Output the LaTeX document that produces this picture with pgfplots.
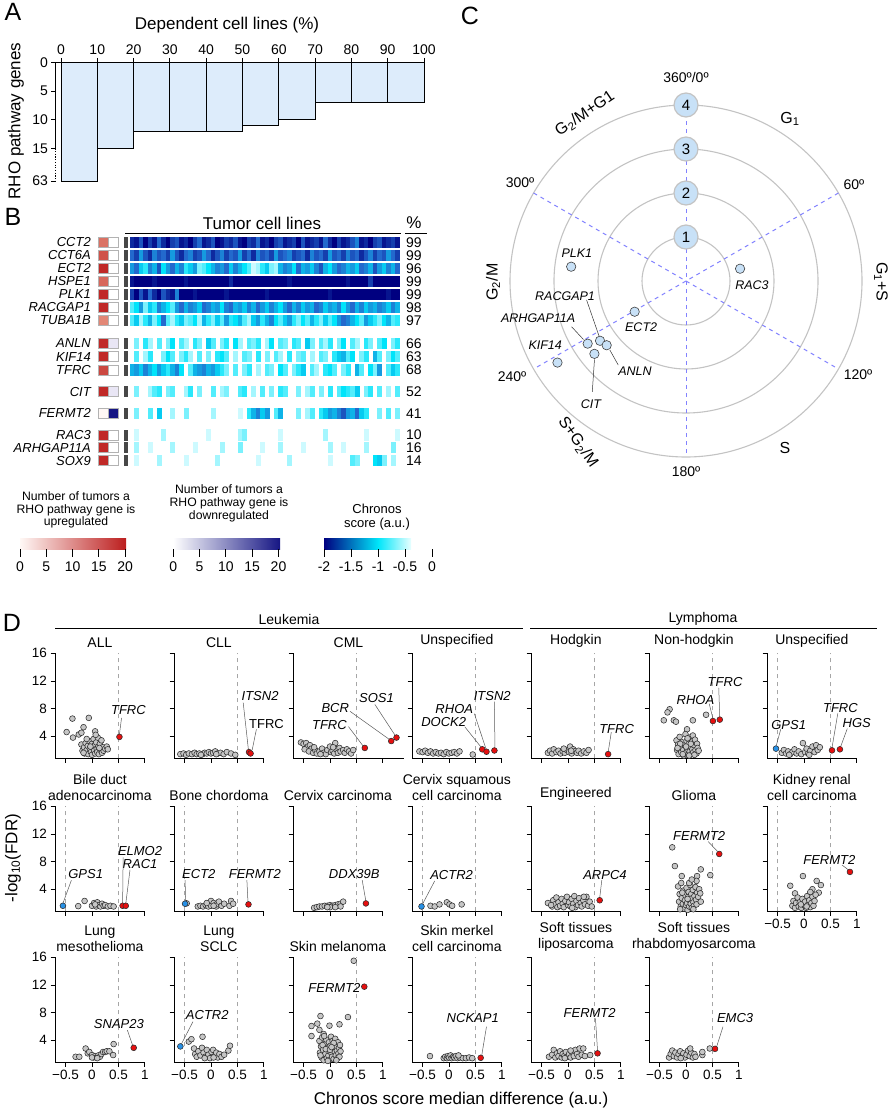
\documentclass[border=0pt]{standalone}
\usepackage{pgfplots}
\pgfplotsset{compat=1.18}
\usepackage{pgfplotstable}
\usepackage{fontspec}
\setmainfont{Liberation Sans}
\newcommand\fs[2]{\fontsize{#1}{#2}\selectfont}

\definecolor{barblue}{RGB}{221,236,251}
\definecolor{ptgray}{RGB}{198,198,198}
\definecolor{ptedge}{RGB}{45,45,45}
\definecolor{ptred}{RGB}{230,15,15}
\definecolor{ptblue}{RGB}{40,145,230}
\definecolor{ray}{RGB}{130,130,255}
\definecolor{ring}{RGB}{195,195,195}
\definecolor{nodeblue}{RGB}{200,225,247}
\definecolor{leader}{RGB}{90,90,90}
\definecolor{cnavy}{RGB}{0,0,128}
\definecolor{cmid}{RGB}{40,110,205}
\definecolor{ccyan}{RGB}{0,230,250}
\definecolor{clight}{RGB}{150,245,252}
\definecolor{cwhite}{RGB}{232,255,255}
\definecolor{upred}{RGB}{188,30,30}
\definecolor{upmid}{RGB}{226,135,118}
\definecolor{upwhite}{RGB}{255,248,245}
\definecolor{dnnavy}{RGB}{22,22,132}
\definecolor{dnmid}{RGB}{145,128,205}

% genes of panel B: row position (px), up / down counts
\pgfplotstableread{
gene       y      up  down
CCT2       242.3  12  0
CCT6A      255.3  15  0
ECT2       268.3  19  0
HSPE1      281.3  13  0
PLK1       294.3  19  0
RACGAP1    307.3  19  0
TUBA1B     320.3  10  0
ANLN       343.3  19  2
KIF14      356.7  19  0
TFRC       370.0  16  0
CIT        391.7  19  2
FERMT2     413.3  0   20
RAC3       435.0  19  0
ARHGAP11A  447.7  19  0
SOX9       460.7  19  0
}\regulation

% panel C: peak phase angle (deg, clockwise from top) and radius
\pgfplotstableread{
gene      theta  r
PLK1      277.1  2.63
RAC3      77.2   1.26
ECT2      239.1  1.36
RACGAP1   235.2  2.38
ANLN      231.0  2.32
ARHGAP11A 237.5  2.65
CIT       231.5  2.66
KIF14     237.6  3.46
}\cyclepeaks

\pgfplotsset{
  dax/.style={anchor=north west, scale only axis, width=89.8pt, height=105pt,
    xmin=-0.7, xmax=1, ymin=0.8, ymax=16,
    axis lines=left, axis line style={-, line width=0.8pt},
    tick align=outside, major tick length=4.5pt, tick style={line width=0.8pt, black},
    xtick={-0.5,0,0.5,1}, ytick={4,8,12,16}, xticklabels={}, yticklabels={},
    clip=false,
    title style={font=\fs{14}{16}, align=center, yshift=-4pt},
    tick label style={font=\fs{13.5}{15}}},
  xl/.style={xticklabels={−0.5,0,0.5,1}},
  yl/.style={yticklabels={4,8,12,16}},
  gp/.style={only marks, mark=*, mark size=2.9pt, mark options={fill=ptgray, draw=ptedge, line width=0.55pt}},
  rp/.style={only marks, mark=*, mark size=2.9pt, mark options={fill=ptred, draw=ptedge, line width=0.55pt}},
  bp/.style={only marks, mark=*, mark size=2.9pt, mark options={fill=ptblue, draw=ptedge, line width=0.55pt}},
  hm/.style={scatter, only marks, mark=square*, mark size=5.6pt, point meta=explicit,
    restrict expr to domain={\thisrow{c}}{-5:-0.01},
    scatter/use mapped color={draw opacity=0, fill=mapped color},
    mark options={xscale=0.41}},
  bframe/.style={anchor=north west, scale only axis, width=892pt, height=410pt,
    xmin=0, xmax=892, ymin=190, ymax=600, y dir=reverse, hide axis, clip=false},
}
\tikzset{
  gl/.style={font=\fs{13}{14}\itshape, inner sep=1pt},
  ll/.style={draw=leader, line width=0.5pt},
  dl/.style={draw=black!35, line width=0.8pt, dash pattern=on 4pt off 4pt},
  cnum/.style={circle, fill=nodeblue, draw=ring, line width=1.2pt, minimum size=24pt, inner sep=0pt, font=\fs{15}{16}},
  cg/.style={font=\fs{12.5}{14}\itshape, inner sep=1pt},
}
\newcommand\dr{\draw[dl] (0.5,0.8) -- (0.5,16);}
\newcommand\dlft{\draw[dl] (-0.5,0.8) -- (-0.5,16);}

\begin{document}
\begin{tikzpicture}
\path[use as bounding box] (0pt,0pt) rectangle (892pt,-1113pt);

%================ A =================
\begin{axis}[at={(55.9pt,-62.3pt)}, anchor=north west, scale only axis,
  width=368.1pt, height=118.7pt,
  xmin=-1.4, xmax=100, ymin=-20.7, ymax=0,
  axis x line*=top, axis y line*=left,
  axis line style={-, line width=0.8pt}, y axis line style={draw=none},
  tick align=outside, major tick length=4.5pt, tick style={black, line width=0.8pt},
  xtick={0,10,...,100}, xticklabels={0,10,20,30,40,50,60,70,80,90,100},
  ytick={0,-5,-10,-15,-20.7}, yticklabels={0,5,10,15,63},
  tick label style={font=\fs{14}{16}},
  y filter/.expression={y>20 ? -20.7 : -y},
  clip=false]
\addplot[ybar interval, fill=barblue, draw=black, line width=0.8pt] coordinates {
  (0,63) (10,15) (20,12) (30,12) (40,12) (50,11) (60,10) (70,7) (80,7) (90,7) (100,7)};
\draw[line width=0.8pt] (-1.4,0) -- (-1.4,-15);
\draw[line width=0.8pt, dash pattern=on 1.2pt off 1.5pt] (-1.4,-15) -- (-1.4,-20.7);
\end{axis}

%================ B heatmap (Chronos) =================
\begin{axis}[bframe, at={(0pt,-190pt)},
  colormap={chronos}{rgb255=(0,0,128) rgb255=(35,105,205) rgb255=(0,228,250) rgb255=(205,250,255) rgb255=(255,255,255)},
  point meta min=-2, point meta max=0]
\addplot[hm] table[x expr=132.25+4.5*\coordindex, y expr=242.3, meta=c, row sep=\\] {c\\
-1.8\\-1.9\\-1.6\\-2\\-1.7\\-1.9\\-1.5\\-1.8\\-2\\-1.7\\
-1.6\\-1.9\\-1.8\\-2\\-1.7\\-1.5\\-1.9\\-1.8\\-1.6\\-2\\
-1.9\\-1.7\\-1.8\\-1.6\\-1.9\\-2\\-1.7\\-1.8\\-1.5\\-1.9\\
-1.8\\-2\\-1.7\\-1.6\\-1.9\\-1.8\\-1.7\\-2\\-1.6\\-1.9\\
-1.8\\-1.7\\-1.9\\-1.5\\-1.8\\-2\\-1.7\\-1.9\\-1.8\\-1.6\\
-1.4\\-1.9\\-1.8\\-2\\-1.7\\-1.6\\-1.9\\-1.8\\-1.7\\-1.9\\};
\addplot[hm] table[x expr=132.25+4.5*\coordindex, y expr=255.3, meta=c, row sep=\\] {c\\
-1.5\\-1.7\\-1.3\\-1.6\\-1.8\\-1.4\\-1.6\\-1.5\\-1.7\\-1.3\\
-1.6\\-1.8\\-1.5\\-1.4\\-1.7\\-1.6\\-1.3\\-1.5\\-1.8\\-1.6\\
-1.4\\-1.7\\-1.5\\-1.6\\-1.3\\-1.7\\-1.5\\-1.8\\-1.4\\-1.6\\
-1.5\\-1.7\\-1.3\\-1.6\\-1.5\\-1.4\\-1.7\\-1.6\\-1.5\\-1.8\\
-1.4\\-1.6\\-1.5\\-1.7\\-1.3\\-1.6\\-1.5\\-1.7\\-1.4\\-1.6\\
-1.5\\-1.8\\-1.6\\-1.4\\-1.7\\-1.5\\-1.6\\-1.3\\-1.5\\-1.7\\};
\addplot[hm] table[x expr=132.25+4.5*\coordindex, y expr=268.3, meta=c, row sep=\\] {c\\
-1.3\\-1.5\\-1.1\\-0.9\\-1.4\\-1.2\\-1.6\\-1.0\\-1.3\\-1.5\\
-1.2\\-1.4\\-0.9\\-1.1\\-1.3\\-0.7\\-0.8\\-1.0\\-1.2\\-1.4\\
-1.3\\-1.5\\-1.1\\-1.4\\-1.2\\-1.0\\-0.8\\-0.5\\-0.6\\-0.9\\
-1.1\\-0.7\\-0.6\\-1.2\\-1.4\\-1.3\\-1.0\\-1.5\\-1.2\\-1.3\\
-1.1\\-1.4\\-1.6\\-1.2\\-1.0\\-1.3\\-1.5\\-1.4\\-1.2\\-1.3\\
-1.1\\-1.5\\-1.4\\-1.2\\-1.6\\-1.3\\-1.1\\-1.4\\-1.2\\-1.5\\};
\addplot[hm] table[x expr=132.25+4.5*\coordindex, y expr=281.3, meta=c, row sep=\\] {c\\
-1.9\\-2\\-2\\-2\\-2\\-1.9\\-2\\-2\\-2\\-2\\
-2\\-2\\-1.9\\-2\\-2\\-2\\-2\\-2\\-2\\-2\\
-2\\-2\\-1.8\\-2\\-2\\-2\\-2\\-2\\-2\\-2\\
-2\\-2\\-2\\-2\\-2\\-1.9\\-2\\-2\\-2\\-2\\
-2\\-2\\-2\\-2\\-2\\-2\\-2\\-2\\-1.9\\-2\\
-2\\-2\\-2\\-1.7\\-2\\-2\\-2\\-2\\-2\\-2\\};
\addplot[hm] table[x expr=132.25+4.5*\coordindex, y expr=294.3, meta=c, row sep=\\] {c\\
-1.7\\-2\\-1.6\\-1.9\\-1.5\\-1.8\\-2\\-1.6\\-1.8\\-1.9\\
-1.4\\-2\\-2\\-2\\-1.9\\-2\\-2\\-2\\-2\\-2\\
-2\\-1.9\\-2\\-2\\-2\\-2\\-2\\-2\\-2\\-2\\
-1.9\\-2\\-2\\-2\\-2\\-2\\-2\\-2\\-2\\-2\\
-2\\-2\\-2\\-2\\-1.9\\-2\\-2\\-2\\-2\\-2\\
-2\\-2\\-2\\-2\\-2\\-2\\-2\\-1.9\\-2\\-2\\};
\addplot[hm] table[x expr=132.25+4.5*\coordindex, y expr=307.3, meta=c, row sep=\\] {c\\
-0.8\\-1.0\\-1.3\\-0.7\\-1.1\\-0.9\\-1.4\\-1.2\\-1.0\\-0.8\\
-1.3\\-1.5\\-1.2\\-1.4\\-1.3\\-1.1\\-1.5\\-1.4\\-1.2\\-1.3\\
-1.0\\-1.4\\-1.5\\-1.2\\-1.3\\-1.1\\-1.4\\-1.2\\-1.5\\-1.3\\
-1.1\\-1.4\\-1.2\\-1.0\\-1.3\\-1.5\\-1.2\\-1.4\\-1.1\\-1.3\\
-1.2\\-1.5\\-1.4\\-1.1\\-1.3\\-1.2\\-1.4\\-1.0\\-1.3\\-1.5\\
-1.2\\-1.4\\-1.1\\-1.3\\-1.2\\-1.4\\-1.3\\-1.1\\-1.4\\-1.2\\};
\addplot[hm] table[x expr=132.25+4.5*\coordindex, y expr=320.3, meta=c, row sep=\\] {c\\
-0.8\\-1.1\\-0.6\\-0.9\\-1.2\\-0.7\\-1.0\\-1.5\\-0.8\\-0.6\\
-0.9\\-1.1\\-0.7\\-0.8\\-1.0\\-0.6\\-1.2\\-0.9\\-0.7\\-1.1\\
-0.8\\-1.3\\-0.9\\-1.0\\-1.2\\-0.8\\-0.6\\-1.1\\-1.3\\-0.9\\
-1.2\\-1.4\\-1.0\\-0.8\\-1.1\\-1.3\\-0.9\\-0.7\\-1.0\\-0.8\\
-1.2\\-0.9\\-0.7\\-1.1\\-0.8\\-1.0\\-1.3\\-1.5\\-1.4\\-1.2\\
-1.0\\-0.8\\-1.3\\-1.1\\-0.9\\-0.7\\-1.0\\-1.2\\-0.8\\-0.9\\};
\addplot[hm] table[x expr=132.25+4.5*\coordindex, y expr=343.3, meta=c, row sep=\\] {c\\
0\\-0.7\\0\\-0.9\\-0.6\\0\\-0.8\\0\\-0.7\\-1.0\\
0\\-0.8\\-0.6\\0\\-0.9\\-0.7\\0\\-1.1\\-0.8\\0\\
-0.7\\-0.9\\0\\-1.0\\-0.6\\0\\-0.8\\-0.7\\-0.9\\0\\
-0.6\\-1.0\\0\\-0.8\\-0.7\\0\\-0.9\\-0.8\\0\\-1.1\\
-0.7\\0\\-0.8\\-0.6\\-0.9\\0\\-0.7\\-1.0\\0\\-0.8\\
-0.6\\0\\-0.9\\-0.7\\0\\-0.8\\-1.0\\0\\-0.7\\-0.9\\};
\addplot[hm] table[x expr=132.25+4.5*\coordindex, y expr=356.7, meta=c, row sep=\\] {c\\
0\\-0.8\\0\\-0.6\\-0.9\\0\\0\\-0.7\\-1.0\\-0.8\\
0\\-0.7\\-0.9\\-0.6\\0\\-0.8\\0\\-0.7\\0\\-0.9\\
-1.0\\-0.8\\0\\-0.6\\0\\-0.8\\-0.7\\0\\-0.9\\0\\
-0.7\\0\\-0.8\\-0.6\\0\\-0.9\\0\\-0.7\\-0.8\\0\\
-0.6\\0\\-0.8\\-0.7\\0\\-0.9\\-1.1\\-1.2\\-0.8\\-1.0\\
0\\-0.7\\-0.9\\0\\-1.2\\-0.8\\0\\-0.7\\-1.0\\-0.8\\};
\addplot[hm] table[x expr=132.25+4.5*\coordindex, y expr=370, meta=c, row sep=\\] {c\\
-1.2\\-1.3\\-1.1\\-1.4\\-1.2\\-1.0\\-1.3\\-1.1\\-0.9\\-1.2\\
-1.4\\-1.0\\0\\-0.8\\-1.2\\-1.3\\-1.4\\-1.2\\-1.3\\-1.1\\
-0.9\\-0.7\\0\\-0.8\\0\\-0.7\\-0.9\\0\\-0.6\\0\\
-0.8\\-0.7\\0\\-1.0\\-0.8\\0\\-0.7\\-0.9\\-1.1\\0\\
-0.8\\-0.6\\0\\-0.9\\-1.0\\-0.8\\0\\-0.7\\-0.9\\0\\
-1.2\\-0.8\\0\\-1.0\\-0.7\\-1.3\\0\\-0.8\\-1.1\\-0.9\\};
\addplot[hm] table[x expr=132.25+4.5*\coordindex, y expr=391.7, meta=c, row sep=\\] {c\\
0\\-0.7\\0\\0\\-0.6\\-0.8\\-0.9\\0\\-0.7\\-0.8\\
0\\0\\-0.6\\-0.9\\0\\-0.7\\0\\0\\-0.8\\0\\
-0.6\\-0.7\\0\\0\\-0.8\\-0.9\\0\\-0.6\\0\\-0.8\\
0\\-0.7\\0\\-0.9\\-0.8\\0\\0\\-0.7\\0\\-0.6\\
-0.8\\0\\-0.7\\0\\-0.9\\0\\-0.8\\-1.0\\-0.9\\-0.8\\
-1.1\\0\\-0.7\\-0.9\\0\\-0.8\\0\\-0.6\\0\\-0.8\\};
\addplot[hm] table[x expr=132.25+4.5*\coordindex, y expr=413.3, meta=c, row sep=\\] {c\\
0\\-0.7\\0\\0\\-0.8\\0\\-1.1\\0\\0\\-0.6\\
0\\0\\-0.7\\0\\0\\0\\0\\0\\-0.6\\0\\
0\\0\\0\\0\\-0.5\\0\\-0.9\\-1.2\\-1.4\\-1.1\\
-1.3\\0\\-0.8\\-1.2\\0\\0\\0\\-0.7\\0\\-0.6\\
-0.8\\0\\-0.9\\-1.1\\-1.3\\-1.2\\-1.4\\-1.6\\-1.3\\-1.2\\
-1.5\\-1.1\\-0.9\\0\\0\\-0.7\\0\\-0.8\\0\\-0.7\\};
\addplot[hm] table[x expr=132.25+4.5*\coordindex, y expr=435, meta=c, row sep=\\] {c\\
0\\-0.5\\0\\0\\0\\0\\0\\-0.6\\0\\0\\
0\\0\\0\\0\\0\\0\\0\\-0.5\\0\\0\\
0\\0\\0\\0\\-0.6\\-0.7\\0\\0\\0\\0\\
0\\0\\0\\-0.5\\0\\0\\0\\0\\0\\0\\
0\\0\\0\\-0.6\\0\\0\\0\\0\\0\\0\\
0\\0\\-0.5\\0\\0\\0\\0\\0\\0\\-0.5\\};
\addplot[hm] table[x expr=132.25+4.5*\coordindex, y expr=447.7, meta=c, row sep=\\] {c\\
0\\-0.6\\0\\0\\-0.5\\0\\0\\0\\0\\-0.6\\
0\\0\\0\\0\\-0.5\\0\\0\\0\\0\\0\\
-0.6\\0\\0\\0\\-0.7\\0\\0\\0\\0\\-0.5\\
0\\0\\0\\-0.6\\0\\0\\0\\0\\-0.5\\0\\
0\\0\\0\\0\\-0.6\\0\\0\\-0.5\\0\\0\\
0\\0\\-0.6\\0\\0\\0\\0\\0\\-0.7\\0\\};
\addplot[hm] table[x expr=132.25+4.5*\coordindex, y expr=460.7, meta=c, row sep=\\] {c\\
0\\-0.5\\0\\0\\0\\0\\-0.6\\0\\0\\0\\
0\\0\\-0.5\\0\\0\\0\\0\\0\\0\\-0.6\\
0\\0\\0\\0\\0\\0\\0\\0\\-0.5\\0\\
0\\0\\0\\0\\0\\-0.6\\0\\0\\0\\0\\
0\\0\\0\\0\\-0.5\\0\\0\\0\\0\\-0.8\\
-0.7\\0\\0\\0\\-1.0\\-1.1\\-0.7\\0\\-0.6\\0\\};
\end{axis}

%================ B up / down counts =================
\begin{axis}[bframe, at={(0pt,-190pt)},
  colormap={up}{rgb255=(255,248,245) rgb255=(226,135,118) rgb255=(188,30,30)},
  point meta min=0, point meta max=20]
\addplot[scatter, only marks, mark=square*, mark size=5pt, point meta=explicit,
  scatter/use mapped color={draw=black!30, fill=mapped color}, mark options={line width=0.6pt}]
  table[x expr=102.8, y=y, meta=up] \regulation;
\end{axis}
\begin{axis}[bframe, at={(0pt,-190pt)},
  colormap={down}{rgb255=(255,255,255) rgb255=(145,128,205) rgb255=(22,22,132)},
  point meta min=0, point meta max=20]
\addplot[scatter, only marks, mark=square*, mark size=5pt, point meta=explicit,
  scatter/use mapped color={draw=black!30, fill=mapped color}, mark options={line width=0.6pt}]
  table[x expr=113.2, y=y, meta=down] \regulation;
\end{axis}

%================ C =================
\begin{axis}[at={(686pt,-281pt)}, anchor=center, scale only axis, width=369.6pt, height=369.6pt,
  xmin=-4.2, xmax=4.2, ymin=-4.2, ymax=4.2, hide axis, clip=false]
\draw[ring, line width=1.1pt] (0,0) circle[radius=44pt];
\draw[ring, line width=1.1pt] (0,0) circle[radius=88pt];
\draw[ring, line width=1.1pt] (0,0) circle[radius=132pt];
\draw[ring, line width=1.1pt] (0,0) circle[radius=176pt];
\draw[ray, line width=1pt, dash pattern=on 4pt off 4pt] (0,4) -- (0,-4);
\draw[ray, line width=1pt, dash pattern=on 4pt off 4pt] (3.464,2) -- (-3.464,-2);
\draw[ray, line width=1pt, dash pattern=on 4pt off 4pt] (-3.464,2) -- (3.464,-2);
\addplot[only marks, mark=*, mark size=4.7pt, mark options={fill=nodeblue, draw=black!75, line width=0.6pt}]
  table[x expr={\thisrow{r}*sin(\thisrow{theta})}, y expr={\thisrow{r}*cos(\thisrow{theta})}] \cyclepeaks;
\node[cnum] at (0,1) {1};
\node[cnum] at (0,2) {2};
\node[cnum] at (0,3) {3};
\node[cnum] at (0,4) {4};
\node[cg] at (-2.48,0.64) {PLK1};
\node[cg] at (1.5,-0.09) {RAC3};
\node[cg] at (-2.75,-0.34) {RACGAP1};
\node[cg] at (-1.02,-1.05) {ECT2};
\node[cg] at (-3.36,-0.84) {ARHGAP11A};
\node[cg] at (-3.2,-1.45) {KIF14};
\node[cg] at (-1.16,-2.05) {ANLN};
\node[cg] at (-2.16,-2.8) {CIT};
\draw[ll, draw=black!80] (-2.26,-0.43) -- (-1.97,-1.27);
\draw[ll, draw=black!80] (-2.6,-1.04) -- (-2.33,-1.33);
\draw[ll, draw=black!80] (-1.73,-1.57) -- (-1.54,-1.91);
\draw[ll, draw=black!80] (-2.08,-1.78) -- (-2.13,-2.52);
\end{axis}

%================ D row 1 =================
\begin{axis}[dax, yl, at={(55pt,-653.3pt)}, title={ALL}]
\dr
\addplot[gp] coordinates {(-0.48,4.6)(-0.37,6.55)(-0.36,3.8)(-0.25,4.25)(-0.2,4.5)(-0.16,5.3)(-0.06,6.65)(0.06,4.7)
 (-0.2,2.8)(-0.18,1.9)(-0.15,2.4)(-0.14,1.5)(-0.12,3.0)(-0.1,2.0)(-0.08,2.6)(-0.07,1.4)(-0.05,3.3)(-0.04,2.2)
 (-0.02,1.7)(0,2.9)(0,1.3)(0.01,2.4)(0.03,3.6)(0.04,1.9)(0.05,2.7)(0.06,1.5)(0.08,3.1)(0.09,2.2)(0.1,1.7)
 (0.11,3.8)(0.12,2.5)(0.13,1.4)(0.15,2.9)(0.16,2.0)(0.18,3.4)(0.19,1.6)(0.2,2.4)(0.22,1.9)(0.25,2.2)(0.28,2.5)
 (0.3,2.1)(-0.1,3.6)(0.07,4.2)(-0.16,1.6)(0.14,2.3)(-0.03,2.5)};
\addplot[rp] coordinates {(0.52,3.9)};
\node[gl] at (0.69,7.85) {TFRC};
\draw[ll] (0.56,6.65) -- (0.52,4.3);
\end{axis}

\begin{axis}[dax, at={(174pt,-653.3pt)}, title={CLL}]
\dr
\addplot[gp] coordinates {(-0.58,1.4)(-0.52,1.5)(-0.47,1.3)(-0.42,1.5)(-0.36,1.4)(-0.31,1.6)(-0.27,1.4)(-0.22,1.5)
 (-0.16,1.4)(-0.12,1.6)(-0.08,1.5)(-0.04,1.7)(0,1.5)(0.04,1.6)(0.08,1.8)(0.13,1.5)(0.18,1.6)(0.24,1.4)(0.3,1.7)
 (0.38,1.5)(0.46,1.3)(-0.19,1.3)(0.1,1.4)};
\addplot[rp] coordinates {(0.72,1.7)(0.75,1.5)};
\node[gl] at (0.93,9.76) {ITSN2};
\node[gl, font=\fs{13}{14}] at (1.05,5.7) {TFRC};
\draw[ll] (0.61,8.85) -- (0.71,1.95);
\draw[ll] (0.86,5.0) -- (0.78,2.0);
\end{axis}

\begin{axis}[dax, at={(293pt,-653.3pt)}, width=110.9pt, xmax=1.4, title={CML}]
\dr
\addplot[gp] coordinates {(-0.55,3.1)(-0.5,2.9)(-0.45,3.0)(-0.42,2.5)(-0.38,2.7)(-0.35,2.2)(-0.48,2.1)(-0.4,1.8)
 (-0.32,1.6)(-0.28,2.0)(-0.25,1.5)(-0.2,1.8)(-0.15,2.2)(-0.12,1.6)(-0.08,1.4)(-0.05,2.0)(0,2.5)(0.02,1.7)(0.05,1.9)
 (0.08,1.5)(0.1,3.0)(0.12,2.1)(0.15,1.6)(0.18,2.3)(0.2,1.8)(0.25,2.0)(0.28,1.6)(0.32,2.1)(0.36,1.8)(0.4,1.5)
 (0.44,2.0)(-0.18,1.4)(0.06,2.4)(-0.3,2.4)};
\addplot[rp] coordinates {(0.66,2.3)(1.16,3.3)(1.26,3.8)};
\node[gl] at (-0.01,5.55) {TFRC};
\node[gl] at (0.1,8.1) {BCR};
\node[gl] at (0.88,9.5) {SOS1};
\draw[ll] (0.35,5.4) -- (0.63,2.55);
\draw[ll] (0.38,7.6) -- (1.13,3.5);
\draw[ll] (0.85,8.6) -- (1.24,4.05);
\end{axis}

\begin{axis}[dax, at={(412pt,-653.3pt)}, title={Unspecified}]
\dr
\addplot[gp] coordinates {(-0.56,1.8)(-0.5,1.7)(-0.45,1.9)(-0.4,1.6)(-0.35,1.8)(-0.3,1.5)(-0.25,1.7)(-0.2,1.5)
 (-0.15,1.6)(-0.1,1.4)(-0.05,1.7)(0,1.5)(0.05,1.6)(0.1,1.7)(0.15,1.5)(0.2,1.8)(0.45,1.35)};
\addplot[rp] coordinates {(0.63,2.1)(0.71,1.75)(0.86,1.93)};
\node[gl] at (-0.1,6.0) {DOCK2};
\node[gl] at (0.1,7.9) {RHOA};
\node[gl] at (0.82,9.75) {ITSN2};
\draw[ll] (0.3,5.35) -- (0.62,2.3);
\draw[ll] (0.48,7.27) -- (0.71,1.95);
\draw[ll] (0.86,9.0) -- (0.87,2.2);
\end{axis}

\begin{axis}[dax, at={(531pt,-653.3pt)}, title={Hodgkin}]
\dr
\addplot[gp] coordinates {(-0.38,1.6)(-0.34,1.9)(-0.3,1.5)(-0.27,2.1)(-0.22,1.7)(-0.18,1.9)(-0.14,1.5)(-0.1,1.8)
 (-0.06,1.6)(-0.02,2.0)(0.02,1.7)(0.04,2.5)(0.07,1.5)(0.1,2.1)(0.13,1.8)(0.17,1.6)(0.2,1.9)(0.25,1.5)(0.3,1.8)
 (0.35,1.6)(0.39,2.0)(-0.08,2.2)(0.06,1.9)};
\addplot[rp] coordinates {(0.76,1.4)};
\node[gl] at (0.92,5.1) {TFRC};
\draw[ll] (0.82,4.6) -- (0.76,1.65);
\end{axis}

\begin{axis}[dax, at={(649pt,-653.3pt)}, title={Non-hodgkin}]
\dr
\addplot[gp] coordinates {(-0.31,7.9)(-0.35,7.45)(-0.42,6.3)(-0.23,6.3)(-0.19,6.1)(0.13,6.3)(0.38,7.1)(0.02,5.0)
 (-0.18,3.4)(-0.17,2.0)(-0.15,2.8)(-0.14,1.4)(-0.12,3.9)(-0.1,2.4)(-0.09,1.7)(-0.07,3.1)(-0.05,2.0)(-0.04,1.2)
 (-0.02,2.7)(-0.01,4.3)(0,1.6)(0.01,3.3)(0.02,2.2)(0.04,1.3)(0.05,2.9)(0.06,3.8)(0.07,1.8)(0.08,2.5)(0.1,1.4)
 (0.11,3.2)(0.12,2.1)(0.13,4.1)(0.14,1.7)(0.15,2.7)(0.17,3.5)(0.18,2.0)(0.2,1.5)(0.21,2.9)(0.22,2.3)(0.24,1.9)
 (-0.06,1.4)(0.03,3.7)(-0.11,2.9)(0.09,2.9)(0.16,1.3)(-0.16,2.3)(0,2.5)(0.06,1.2)};
\addplot[rp] coordinates {(0.51,6.2)(0.64,6.4)};
\node[gl] at (0.18,9.3) {RHOA};
\node[gl] at (0.74,11.8) {TFRC};
\draw[ll] (0.44,8.7) -- (0.51,6.55);
\draw[ll] (0.62,11.0) -- (0.64,6.75);
\end{axis}

\begin{axis}[dax, at={(767pt,-653.3pt)}, title={Unspecified}]
\dr \dlft
\addplot[gp] coordinates {(-0.42,1.6)(-0.38,2.0)(-0.34,1.5)(-0.3,1.8)(-0.26,1.4)(-0.22,1.7)(-0.18,2.1)(-0.14,1.5)
 (-0.1,1.8)(-0.05,1.4)(-0.02,3.0)(0.02,1.7)(0.05,2.2)(0.08,1.5)(0.12,1.9)(0.16,2.5)(0.2,1.7)(0.23,2.7)(0.26,2.0)
 (0.3,2.4)(-0.28,1.3)(0.1,1.3)};
\addplot[bp] coordinates {(-0.53,2.2)};
\addplot[rp] coordinates {(0.53,1.95)(0.68,2.1)};
\node[gl] at (-0.29,5.55) {GPS1};
\node[gl] at (0.69,8.1) {TFRC};
\node[gl] at (1.0,5.9) {HGS};
\draw[ll] (-0.44,5.0) -- (-0.53,2.5);
\draw[ll] (0.64,7.3) -- (0.53,2.3);
\draw[ll] (0.82,5.1) -- (0.69,2.4);
\end{axis}

%================ D row 2 =================
\begin{axis}[dax, yl, at={(55pt,-806.3pt)}, title={Bile duct\\adenocarcinoma}]
\dr \dlft
\addplot[gp] coordinates {(-0.26,1.55)(-0.14,2.3)(0.0,1.6)(0.04,2.0)(0.08,1.5)(0.1,2.1)(0.13,1.7)(0.16,1.5)
 (0.19,1.9)(0.22,1.6)(0.25,1.7)(0.3,1.5)(0.35,1.6)(0.41,1.5)(0.06,1.8)};
\addplot[bp] coordinates {(-0.55,1.6)};
\addplot[rp] coordinates {(0.58,1.6)(0.64,1.6)};
\node[gl] at (-0.12,6.2) {GPS1};
\node[gl] at (0.91,9.5) {ELMO2};
\node[gl] at (0.91,7.6) {RAC1};
\draw[ll] (-0.39,5.3) -- (-0.55,1.95);
\draw[ll] (0.59,8.6) -- (0.58,1.9);
\draw[ll] (0.72,6.8) -- (0.64,1.9);
\end{axis}

\begin{axis}[dax, at={(174pt,-806.3pt)}, title={Bone chordoma}]
\dr \dlft
\addplot[gp] coordinates {(-0.25,1.5)(-0.2,1.6)(-0.15,1.5)(-0.1,1.7)(-0.05,1.5)(0,1.6)(0,2.3)(0.05,2.0)(0.1,1.5)
 (0.1,1.8)(0.15,2.2)(0.2,1.6)(0.25,1.9)(0.35,1.6)(0.38,2.3)(0.42,1.9)(-0.08,2.0)(0.05,1.6)(-0.46,1.95)};
\addplot[bp] coordinates {(-0.49,1.9)};
\addplot[rp] coordinates {(0.71,1.8)};
\node[gl] at (-0.23,6.2) {ECT2};
\node[gl] at (0.83,6.2) {FERMT2};
\draw[ll] (-0.49,5.3) -- (-0.48,2.2);
\draw[ll] (0.68,5.3) -- (0.7,2.15);
\end{axis}

\begin{axis}[dax, at={(293pt,-806.3pt)}, title={Cervix carcinoma}]
\dr
\addplot[gp] coordinates {(-0.3,1.3)(-0.25,1.4)(-0.2,1.5)(-0.15,1.5)(-0.1,1.6)(-0.05,1.6)(0,1.7)(0.05,1.6)(0,1.4)
 (0.1,1.7)(0.15,1.8)(0.2,1.9)(0.25,2.2)(0.2,1.5)(0.1,1.4)(-0.05,1.4)};
\addplot[rp] coordinates {(0.68,1.94)};
\node[gl] at (0.46,6.2) {DDX39B};
\draw[ll] (0.61,5.3) -- (0.68,2.25);
\end{axis}

\begin{axis}[dax, at={(412pt,-806.3pt)}, title={Cervix squamous\\cell carcinoma}]
\dr \dlft
\addplot[gp] coordinates {(-0.35,1.6)(-0.27,1.5)(-0.18,1.8)(-0.04,2.1)(0.01,1.8)(0.06,1.6)(0.24,1.8)};
\addplot[bp] coordinates {(-0.52,1.5)};
\node[gl] at (0.05,6.05) {ACTR2};
\draw[ll] (-0.27,5.2) -- (-0.5,1.85);
\end{axis}

\begin{axis}[dax, at={(531pt,-806.3pt)}, title={Engineered}]
\dr
\addplot[gp] coordinates {(-0.38,2.0)(-0.3,1.5)(-0.28,2.4)(-0.25,1.8)(-0.22,2.8)(-0.2,1.4)(-0.18,2.1)(-0.15,1.6)
 (-0.12,2.6)(-0.1,1.9)(-0.08,1.4)(-0.05,2.3)(-0.02,2.9)(0,1.7)(0.02,2.1)(0.05,1.5)(0.07,2.6)(0.1,1.9)(0.12,3.0)
 (0.14,1.4)(0.16,2.3)(0.19,1.7)(0.21,2.7)(0.24,2.0)(0.26,1.5)(0.29,2.4)(0.32,1.8)(0.35,2.9)(0.38,1.6)(0.41,2.2)
 (0.45,1.5)(0.3,2.9)(-0.32,1.7)(0.08,1.3)};
\addplot[rp] coordinates {(0.6,2.4)};
\node[gl] at (0.7,6.05) {ARPC4};
\draw[ll] (0.64,5.3) -- (0.6,2.7);
\end{axis}

\begin{axis}[dax, at={(649pt,-806.3pt)}, title={Glioma}]
\dr
\addplot[gp] coordinates {(-0.26,10.06)(-0.21,7.35)(-0.08,5.9)(0.28,6.87)(0.46,6.04)(0.21,5.9)
 (-0.15,4.4)(-0.13,2.2)(-0.12,3.3)(-0.1,1.5)(-0.09,4.9)(-0.08,2.7)(-0.06,1.9)(-0.05,3.8)(-0.04,1.2)(-0.02,2.4)
 (-0.01,3.1)(0,1.7)(0.01,4.2)(0.02,2.0)(0.03,1.0)(0.04,2.9)(0.05,3.6)(0.06,1.5)(0.07,2.4)(0.08,4.6)(0.09,1.9)
 (0.1,3.3)(0.11,1.3)(0.12,2.7)(0.13,3.9)(0.14,2.1)(0.15,1.6)(0.16,3.0)(0.18,4.3)(0.19,2.5)(0.2,1.8)(0.21,3.5)
 (0.23,2.9)(0.25,4.0)(0.27,3.4)(0.28,2.2)(-0.07,3.5)(0.03,2.6)(0.14,1.1)(-0.11,1.1)(0.06,4.9)(0.2,5.2)(0.11,5.4)};
\addplot[rp] coordinates {(0.63,9.1)};
\node[gl] at (0.25,11.75) {FERMT2};
\draw[ll] (0.42,10.9) -- (0.6,9.45);
\end{axis}

\begin{axis}[dax, xl, at={(767pt,-806.3pt)}, title={Kidney renal\\cell carcinoma}]
\dr \dlft
\addplot[gp] coordinates {(-0.26,4.5)(-0.02,5.9)(0.24,5.2)(0.32,4.6)(0.16,4.0)(-0.17,3.4)(0.28,3.5)
 (-0.22,1.6)(-0.2,2.3)(-0.17,1.3)(-0.15,2.0)(-0.12,2.8)(-0.1,1.5)(-0.08,2.1)(-0.05,1.3)(-0.03,2.6)(0,1.7)
 (0.02,2.2)(0.04,1.3)(0.06,3.0)(0.08,1.8)(0.1,2.4)(0.12,1.4)(0.14,2.0)(0.16,2.9)(0.18,1.6)(0.2,2.3)(0.22,3.2)
 (0.12,3.6)(-0.06,1.8)(0.05,1.5)};
\addplot[rp] coordinates {(0.87,6.5)};
\node[gl] at (0.48,8.2) {FERMT2};
\draw[ll] (0.72,7.5) -- (0.84,6.8);
\end{axis}

%================ D row 3 =================
\begin{axis}[dax, xl, yl, at={(55pt,-957.3pt)}, title={Lung\\mesothelioma}]
\dr
\addplot[gp] coordinates {(-0.31,1.6)(-0.24,1.6)(-0.12,2.8)(-0.08,2.1)(-0.05,2.3)(0,1.85)(0.03,1.5)(0.06,1.7)
 (0.09,1.5)(0.12,1.8)(0.15,1.6)(0.18,2.0)(0.21,2.3)(0.25,2.3)(0.28,2.4)(0.33,2.4)(0.4,1.85)(0.41,3.44)(0,1.5)(0.1,1.4)};
\addplot[rp] coordinates {(0.79,2.9)};
\node[gl] at (0.51,6.3) {SNAP23};
\draw[ll] (0.67,5.46) -- (0.77,3.25);
\end{axis}

\begin{axis}[dax, xl, at={(174pt,-957.3pt)}, title={Lung\\SCLC}]
\dr \dlft
\addplot[gp] coordinates {(-0.42,3.8)(-0.37,4.15)(-0.16,4.5)(-0.32,2.8)(-0.3,2.0)(-0.27,1.6)(-0.24,2.4)(-0.2,1.8)
 (-0.17,2.9)(-0.14,2.2)(-0.11,1.6)(-0.08,2.6)(-0.05,1.9)(-0.02,1.4)(0.01,2.3)(0.04,2.6)(0.07,1.7)(0.1,2.2)
 (0.13,1.5)(0.16,2.0)(0.2,1.6)(0.25,1.9)(0.33,2.5)(0.36,3.2)(0.05,1.5)(-0.12,1.4)};
\addplot[bp] coordinates {(-0.58,3.1)};
\node[gl] at (-0.07,7.7) {ACTR2};
\draw[ll] (-0.34,6.7) -- (-0.56,3.45);
\end{axis}

\begin{axis}[dax, xl, at={(293pt,-957.3pt)}, title={Skin melanoma}]
\dr
\addplot[gp] coordinates {(0.45,15.5)(-0.18,7.5)(-0.35,6.05)(-0.24,6.4)(-0.01,6.1)(0.18,6.3)(0.34,7.35)(-0.35,4.6)
 (-0.2,5.5)(-0.12,4.9)
 (-0.2,3.9)(-0.19,2.2)(-0.17,3.1)(-0.16,1.5)(-0.15,4.4)(-0.13,2.6)(-0.12,1.1)(-0.1,3.5)(-0.09,2.0)(-0.07,4.1)
 (-0.06,1.4)(-0.05,2.9)(-0.03,1.8)(-0.02,3.7)(-0.01,2.4)(0,1.2)(0.01,3.2)(0.02,4.5)(0.03,2.1)(0.04,1.6)(0.05,3.9)
 (0.06,2.8)(0.07,1.3)(0.08,3.4)(0.09,2.3)(0.1,4.2)(0.11,1.8)(0.12,3.0)(0.13,2.5)(0.14,1.4)(0.15,3.7)(0.16,2.1)
 (0.17,2.9)(0.18,1.6)(0.19,3.3)(0.2,2.4)(-0.14,3.3)(-0.08,2.7)(0,2.6)(0.07,3.6)(-0.04,1.0)(0.12,1.1)(-0.18,1.8)
 (0.03,3.0)(-0.11,4.6)};
\addplot[rp] coordinates {(0.65,11.75)};
\node[gl, anchor=east] at (0.6,11.55) {FERMT2};
\end{axis}

\begin{axis}[dax, xl, at={(412pt,-957.3pt)}, title={Skin merkel\\cell carcinoma}]
\dr
\addplot[gp] coordinates {(-0.36,1.7)(-0.1,1.4)(-0.07,1.6)(-0.04,1.4)(-0.02,1.7)(0,1.5)(0.03,1.8)(0.05,1.4)(0.08,1.6)
 (0.1,1.5)(0.13,1.7)(0.16,1.4)(0.2,1.5)(0.26,1.4)(0.32,1.4)(0.38,1.5)(0.44,1.4)(0.18,1.8)};
\addplot[rp] coordinates {(0.6,1.45)};
\node[gl] at (0.45,7.15) {NCKAP1};
\draw[ll] (0.71,5.95) -- (0.62,1.8);
\end{axis}

\begin{axis}[dax, xl, at={(531pt,-957.3pt)}, title={Soft tissues\\liposarcoma}]
\dr
\addplot[gp] coordinates {(-0.36,1.6)(-0.3,1.9)(-0.27,2.6)(-0.24,1.5)(-0.21,2.1)(-0.18,1.7)(-0.15,2.4)(-0.12,1.5)
 (-0.1,2.0)(-0.07,1.7)(-0.04,2.3)(-0.01,1.6)(0.02,2.0)(0.05,1.5)(0.08,2.2)(0.11,1.7)(0.14,2.6)(0.17,2.0)(0.2,1.6)
 (0.22,2.8)(0.26,1.9)(0.29,2.8)(0.32,1.7)(0.42,1.85)(-0.06,1.4)(0.05,2.5)};
\addplot[rp] coordinates {(0.56,2.1)};
\node[gl] at (0.41,8.0) {FERMT2};
\draw[ll] (0.52,7.15) -- (0.56,2.45);
\end{axis}

\begin{axis}[dax, xl, at={(649pt,-957.3pt)}, title={Soft tissues\\rhabdomyosarcoma}]
\dr
\addplot[gp] coordinates {(-0.32,1.5)(-0.29,2.0)(-0.26,2.5)(-0.23,1.7)(-0.2,2.2)(-0.17,1.5)(-0.14,2.0)(-0.11,2.4)
 (-0.08,1.6)(-0.05,2.1)(-0.02,1.5)(0.01,1.9)(0.04,2.5)(0.07,1.7)(0.1,2.2)(0.13,1.5)(0.16,2.0)(0.18,1.6)(0.31,1.85)
 (0.31,2.3)(0.45,2.8)(-0.1,1.4)(0.08,2.8)};
\addplot[rp] coordinates {(0.55,2.75)};
\node[gl] at (0.93,7.15) {EMC3};
\draw[ll] (0.7,5.95) -- (0.58,3.05);
\end{axis}

%================ annotations in pixel units =================
\begin{scope}[x=1pt, y=-1pt]
% panel letters
\node[font=\fs{25}{26}] at (13,12) {A};
\node[font=\fs{25}{26}] at (13,217) {B};
\node[font=\fs{25}{26}] at (470,16) {C};
\node[font=\fs{25}{26}] at (12,623) {D};
% A
\node[font=\fs{17}{18}] at (227,25) {Dependent cell lines (\%)};
\node[font=\fs{17}{18}, rotate=90] at (16,121) {RHO pathway genes};
% B header
\node[font=\fs{17}{18}] at (262,223) {Tumor cell lines};
\draw[line width=0.9pt] (125,233.3) -- (401,233.3);
\node[font=\fs{17}{18}] at (414,223) {\%};
\draw[line width=0.9pt] (405,233.3) -- (427,233.3);
\foreach \g/\yy/\p in {CCT2/242.3/99, CCT6A/255.3/99, ECT2/268.3/96, HSPE1/281.3/99, PLK1/294.3/99,
  RACGAP1/307.3/98, TUBA1B/320.3/97, ANLN/343.3/66, KIF14/356.7/63, TFRC/370/68, CIT/391.7/52,
  FERMT2/413.3/41, RAC3/435/10, ARHGAP11A/447.7/16, SOX9/460.7/14} {
  \node[anchor=east, font=\fs{13}{14}\itshape, inner sep=0pt] at (91,\yy) {\g};
  \node[anchor=west, font=\fs{14}{15}, inner sep=0pt] at (406,\yy) {\p};
  \fill[black!72] (124,{\yy-5.5}) rectangle (127.6,{\yy+5.5});
}
% B legends
\node[align=center, font=\fs{12.2}{12.8}] at (76,510) {Number of tumors a\\RHO pathway gene is\\upregulated};
\node[align=center, font=\fs{12.2}{12.8}] at (229,503.6) {Number of tumors a\\RHO pathway gene is\\downregulated};
\node[align=center, font=\fs{13}{14.5}] at (377,517) {Chronos\\score (a.u.)};
\shade[left color=upwhite, middle color=upmid, right color=upred] (20,538) rectangle (126,549);
\shade[left color=white, middle color=dnmid, right color=dnnavy] (173,538) rectangle (280,549);
\shade[left color=cnavy, middle color=cmid, right color=ccyan] (324,538) rectangle (378.2,549);
\shade[left color=ccyan, middle color=clight, right color=cwhite] (378,538) rectangle (411,549);
\foreach \xx/\t in {20/0, 46.3/5, 72.6/10, 98.9/15, 125.2/20} {
  \draw[line width=0.9pt] (\xx,549) -- (\xx,557);
  \node[font=\fs{14}{15}] at (\xx,567) {\t};}
\foreach \xx/\t in {173.3/0, 199.6/5, 225.9/10, 252.2/15, 278.5/20} {
  \draw[line width=0.9pt] (\xx,549) -- (\xx,557);
  \node[font=\fs{14}{15}] at (\xx,567) {\t};}
\foreach \xx/\t in {324/-2, 351/-1.5, 378/-1, 405/-0.5, 432/0} {
  \draw[line width=0.9pt] (\xx,549) -- (\xx,557);
  \node[font=\fs{14}{15}] at (\xx,567) {\t};}
% C labels
\node[font=\fs{14}{15}] at (686,77) {360º/0º};
\node[font=\fs{14}{15}] at (854,185) {60º};
\node[font=\fs{14}{15}] at (520,183) {300º};
\node[font=\fs{14}{15}] at (858,375) {120º};
\node[font=\fs{14}{15}] at (512,377) {240º};
\node[font=\fs{14}{15}] at (686,472) {180º};
\node[font=\fs{16}{17}] at (790,119) {G\textsubscript{1}};
\node[font=\fs{16}{17}, rotate=-90] at (881,282) {G\textsubscript{1}+S};
\node[font=\fs{16}{17}] at (785,448) {S};
\node[font=\fs{16}{17}, rotate=-55, inner sep=0pt] at (578,442) {S+G\textsubscript{2}/M};
\node[font=\fs{16}{17}, rotate=90] at (493,282) {G\textsubscript{2}/M};
\node[font=\fs{16}{17}, rotate=34, inner sep=0pt] at (585,114) {G\textsubscript{2}/M+G1};
% D headers and axis labels
\node[font=\fs{14}{15}] at (289,619) {Leukemia};
\draw[line width=1pt] (55,628.3) -- (523,628.3);
\node[font=\fs{14}{15}] at (703,619) {Lymphoma};
\draw[line width=1pt] (530,628.3) -- (877,628.3);
\node[font=\fs{17}{18}, rotate=90] at (13,858) {-log\textsubscript{10}(FDR)};
\node[font=\fs{17}{18}] at (461,1100) {Chronos score median difference (a.u.)};
\end{scope}
\end{tikzpicture}
\end{document}
